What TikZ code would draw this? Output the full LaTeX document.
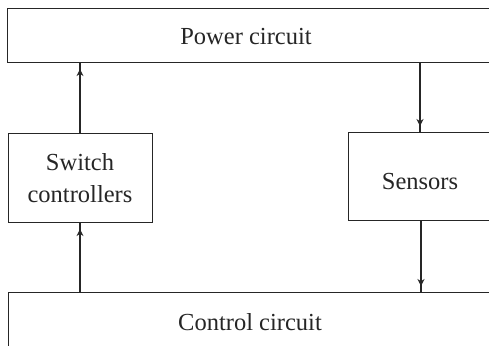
\documentclass[tikz,border=0pt]{standalone}
\usepackage{fontspec}
\setmainfont{Liberation Serif}
\usetikzlibrary{arrows.meta,decorations.markings}
\begin{document}
\begin{tikzpicture}[x=1pt,y=-1pt,
  box/.style={draw=black!85,line width=1.1pt,rectangle,inner sep=0pt,anchor=north west},
  txt/.style={font=\fontsize{24.5}{32}\selectfont,align=center,text=black!85},
  link/.style={draw=black!85,line width=1.1pt,postaction={decorate},
    decoration={markings,mark=at position -6pt with {\arrow{Stealth[length=7pt,width=7pt]}}}}]
\useasboundingbox (0,0) rectangle (489,345);
\fill[white] (0,0) rectangle (489,345);
\clip (0,0) rectangle (489,345);
\node[box,minimum width=500pt,minimum height=54pt] (power) at (7,8) {};
\node[box,minimum width=144pt,minimum height=89pt] (sw) at (8,133) {};
\node[box,minimum width=160pt,minimum height=88pt] (sens) at (348,132) {};
\node[box,minimum width=500pt,minimum height=70pt] (ctrl) at (8,292) {};
\node[txt] (tpower) at (246,37) {Power circuit};
\node[txt] (tsw) at (80,178) {Switch\\controllers};
\node[txt] (tsens) at (420,182) {Sensors};
\node[txt] (tctrl) at (250,322) {Control circuit};
\coordinate (a1) at (80,222);
\coordinate (a3) at (80,62);
\coordinate (b1) at (420,62);
\coordinate (b3) at (421,220);
\draw[link] (ctrl.north -| a1) -- (sw.south -| a1);
\draw[link] (sw.north -| a3) -- (power.south -| a3);
\draw[link] (power.south -| b1) -- (sens.north -| b1);
\draw[link] (sens.south -| b3) -- (ctrl.north -| b3);
\end{tikzpicture}
\end{document}
